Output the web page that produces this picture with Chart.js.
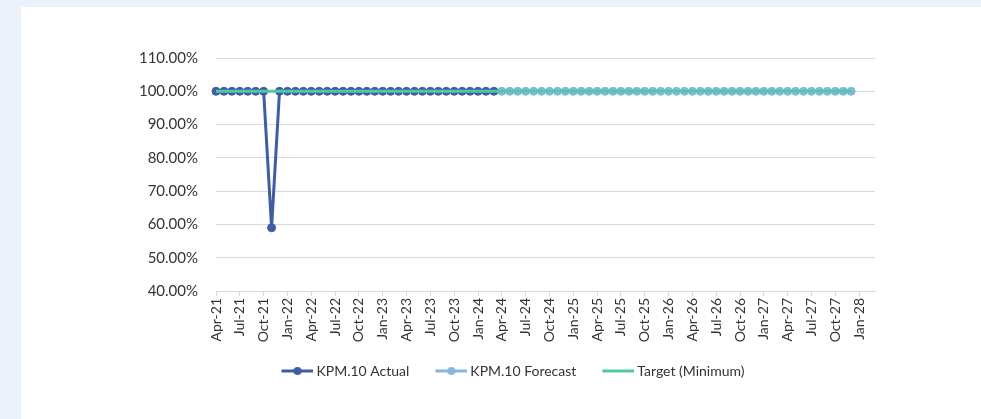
<!DOCTYPE html>
<html>
<head>
<meta charset="utf-8">
<script src="https://cdn.jsdelivr.net/npm/chart.js@4.4.1/dist/chart.umd.min.js"></script>
<style>
  html, body { margin: 0; padding: 0; }
  body { width: 981px; height: 419px; background: #ebf2f9; position: relative; overflow: hidden; }
  #panel { position: absolute; left: 21px; top: 7px; width: 960px; height: 412px; background: #fff; }
  #chart { display: block; }
</style>
</head>
<body>
<div id="panel"><canvas id="chart" width="960" height="412"></canvas></div>
<script>
// monthly categories, Apr-21 .. Mar-28 (axis runs a little past the data)
const months = [
  'Apr-21', 'May-21', 'Jun-21', 'Jul-21', 'Aug-21', 'Sep-21', 'Oct-21', 'Nov-21', 'Dec-21',
  'Jan-22', 'Feb-22', 'Mar-22', 'Apr-22', 'May-22', 'Jun-22', 'Jul-22', 'Aug-22', 'Sep-22', 'Oct-22', 'Nov-22', 'Dec-22',
  'Jan-23', 'Feb-23', 'Mar-23', 'Apr-23', 'May-23', 'Jun-23', 'Jul-23', 'Aug-23', 'Sep-23', 'Oct-23', 'Nov-23', 'Dec-23',
  'Jan-24', 'Feb-24', 'Mar-24', 'Apr-24', 'May-24', 'Jun-24', 'Jul-24', 'Aug-24', 'Sep-24', 'Oct-24', 'Nov-24', 'Dec-24',
  'Jan-25', 'Feb-25', 'Mar-25', 'Apr-25', 'May-25', 'Jun-25', 'Jul-25', 'Aug-25', 'Sep-25', 'Oct-25', 'Nov-25', 'Dec-25',
  'Jan-26', 'Feb-26', 'Mar-26', 'Apr-26', 'May-26', 'Jun-26', 'Jul-26', 'Aug-26', 'Sep-26', 'Oct-26', 'Nov-26', 'Dec-26',
  'Jan-27', 'Feb-27', 'Mar-27', 'Apr-27', 'May-27', 'Jun-27', 'Jul-27', 'Aug-27', 'Sep-27', 'Oct-27', 'Nov-27', 'Dec-27',
  'Jan-28', 'Feb-28', 'Mar-28'
];

// KPM.10 actual, Apr-21 .. Mar-24
const actualStart = 'Apr-21';
const actualValues = [
  1.00, 1.00, 1.00, 1.00, 1.00, 1.00, 1.00, 0.59, 1.00,
  1.00, 1.00, 1.00, 1.00, 1.00, 1.00, 1.00, 1.00, 1.00, 1.00, 1.00, 1.00,
  1.00, 1.00, 1.00, 1.00, 1.00, 1.00, 1.00, 1.00, 1.00, 1.00, 1.00, 1.00,
  1.00, 1.00, 1.00
];

// KPM.10 forecast, Apr-24 .. Dec-27
const forecastStart = 'Apr-24';
const forecastValues = [
  1.00, 1.00, 1.00, 1.00, 1.00, 1.00, 1.00, 1.00, 1.00,
  1.00, 1.00, 1.00, 1.00, 1.00, 1.00, 1.00, 1.00, 1.00, 1.00, 1.00, 1.00,
  1.00, 1.00, 1.00, 1.00, 1.00, 1.00, 1.00, 1.00, 1.00, 1.00, 1.00, 1.00,
  1.00, 1.00, 1.00, 1.00, 1.00, 1.00, 1.00, 1.00, 1.00, 1.00, 1.00, 1.00
];

// target (minimum), Apr-21 .. Dec-27
const targetStart = 'Apr-21';
const targetValues = [
  1.00, 1.00, 1.00, 1.00, 1.00, 1.00, 1.00, 1.00, 1.00,
  1.00, 1.00, 1.00, 1.00, 1.00, 1.00, 1.00, 1.00, 1.00, 1.00, 1.00, 1.00,
  1.00, 1.00, 1.00, 1.00, 1.00, 1.00, 1.00, 1.00, 1.00, 1.00, 1.00, 1.00,
  1.00, 1.00, 1.00, 1.00, 1.00, 1.00, 1.00, 1.00, 1.00, 1.00, 1.00, 1.00,
  1.00, 1.00, 1.00, 1.00, 1.00, 1.00, 1.00, 1.00, 1.00, 1.00, 1.00, 1.00,
  1.00, 1.00, 1.00, 1.00, 1.00, 1.00, 1.00, 1.00, 1.00, 1.00, 1.00, 1.00,
  1.00, 1.00, 1.00, 1.00, 1.00, 1.00, 1.00, 1.00, 1.00, 1.00, 1.00, 1.00
];

const yMin = 0.4;
const yMax = 1.1;
const yStep = 0.1;

const colActual = '#3f5ca8';
const colForecast = '#84b6e0';
const colTarget = '#52c99c';
const textColor = '#333333';
const gridColor = '#d9d9d9';

function toPoints(start, values) {
  const first = months.indexOf(start);
  return values.map((v, i) => ({ x: months[first + i], y: v }));
}

// legend swatch: blank margin on the left, then a short line with an optional marker
function legendIcon(color, dot) {
  const c = document.createElement('canvas');
  c.width = 52;
  c.height = 10;
  const g = c.getContext('2d');
  g.strokeStyle = color;
  g.lineWidth = 3;
  g.beginPath();
  g.moveTo(20, 5);
  g.lineTo(52, 5);
  g.stroke();
  if (dot) {
    g.fillStyle = color;
    g.beginPath();
    g.arc(36, 5, 4, 0, Math.PI * 2);
    g.fill();
  }
  return c;
}
const icons = [legendIcon(colActual, true), legendIcon(colForecast, true), legendIcon(colTarget, false)];

// nudge the legend sideways so it sits where the original one does
const legendShift = {
  id: 'legendShift',
  afterLayout(chart) {
    chart.legend.left += 7;
    chart.legend.right += 7;
  }
};

const ctx = document.getElementById('chart').getContext('2d');
new Chart(ctx, {
  type: 'line',
  data: {
    labels: months,
    datasets: [
      {
        label: 'KPM.10 Actual',
        data: toPoints(actualStart, actualValues),
        borderColor: colActual,
        backgroundColor: colActual,
        borderWidth: 3,
        pointRadius: 4,
        pointBorderWidth: 1,
        order: 2
      },
      {
        label: 'KPM.10 Forecast',
        data: toPoints(forecastStart, forecastValues),
        borderColor: colForecast,
        backgroundColor: colForecast,
        borderWidth: 3,
        pointRadius: 4,
        pointBorderWidth: 1,
        order: 1
      },
      {
        label: 'Target (Minimum)',
        data: toPoints(targetStart, targetValues),
        borderColor: colTarget,
        backgroundColor: colTarget,
        borderWidth: 3,
        pointRadius: 0,
        order: 0
      }
    ]
  },
  plugins: [legendShift],
  options: {
    responsive: false,
    animation: false,
    layout: { padding: { left: 100, right: 106, top: 51, bottom: 31 } },
    scales: {
      x: {
        type: 'category',
        offset: false,
        afterFit: s => { s.height = 63; },
        grid: { drawOnChartArea: false, color: gridColor, tickLength: 5 },
        border: { color: gridColor },
        ticks: {
          autoSkip: false,
          maxRotation: 90,
          minRotation: 90,
          padding: 2,
          color: textColor,
          font: { family: 'Lato', size: 14 },
          callback: function (val, i) {
            return i % 3 === 0 ? this.getLabelForValue(val) : null;
          }
        }
      },
      y: {
        min: yMin,
        max: yMax,
        afterFit: s => { s.width = 95; },
        grid: { color: gridColor, drawTicks: false },
        border: { display: false },
        ticks: {
          stepSize: yStep,
          padding: 18,
          color: textColor,
          font: { family: 'Lato', size: 15 },
          callback: v => (v * 100).toFixed(2) + '%'
        }
      }
    },
    plugins: {
      tooltip: { enabled: false },
      legend: {
        position: 'bottom',
        labels: {
          usePointStyle: true,
          pointStyleWidth: 44,
          padding: 10,
          color: textColor,
          font: { family: 'Lato', size: 14 },
          sort: (a, b) => a.datasetIndex - b.datasetIndex,
          generateLabels: chart => Chart.defaults.plugins.legend.labels.generateLabels(chart)
            .map(l => Object.assign(l, { pointStyle: icons[l.datasetIndex] }))
        }
      }
    }
  }
});
</script>
</body>
</html>
